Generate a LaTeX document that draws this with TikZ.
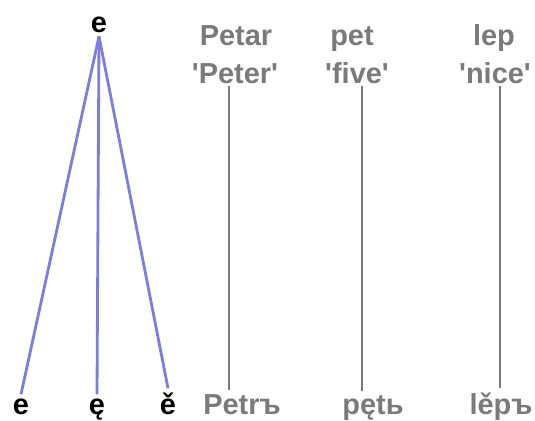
\documentclass[tikz,border=0pt]{standalone}
\usepackage{fontspec}
\setmainfont{Liberation Sans}
\usepackage{xcolor}
\usepackage{tikz}
\usetikzlibrary{calc}
\definecolor{vowelblue}{RGB}{125,125,225}
\definecolor{wordgray}{RGB}{122,122,122}

\begin{document}
\begin{tikzpicture}[x=0.03cm, y=-0.03cm,
  vowel/.style={font=\fontsize{24.7pt}{28pt}\selectfont\bfseries, text=black, anchor=base},
  word/.style={font=\fontsize{24.7pt}{28pt}\selectfont\bfseries, text=wordgray, anchor=base},
  gloss/.style={word, inner sep=2pt},
  branch/.style={draw=vowelblue, line width=2.4pt},
  stem/.style={draw=wordgray, line width=2.4pt}]
\useasboundingbox (0,0) rectangle (535,420);
% the vowel tree
\node[vowel] (top) at (99,32) {e};
\node[vowel] (eplain) at (21,414) {e};
\node[vowel] (enasal) at (97,414) {ę};
\node[vowel] (eyat) at (168,414) {ě};
\draw[branch] (top.south) -- (eplain.north);
\draw[branch] (top.south) -- (enasal.north);
\draw[branch] (top.south) -- (eyat.north);
% the words
\node[word] (petar) at (236,45) {Petar};
\node[gloss] (peter) at (235,83) {\textquotesingle Peter\textquotesingle};
\node[word] (pet) at (352,45) {pet};
\node[gloss] (five) at (357,83) {\textquotesingle five\textquotesingle};
\node[word] (lep) at (494,45) {lep};
\node[gloss] (nice) at (495,83) {\textquotesingle nice\textquotesingle};
\node[word] (petr) at (242,414) {Petrъ};
\node[word] (pety) at (373,414) {pętь};
\node[word] (lepy) at (501,414) {lěpъ};
\coordinate (peterfoot) at ($(peter.south)+(-6,0)$);
\coordinate (fivefoot) at ($(five.south)+(5,0)$);
\coordinate (nicefoot) at ($(nice.south)+(5,0)$);
\draw[stem] (peterfoot) -- (peterfoot |- petr.north);
\draw[stem] (fivefoot) -- (fivefoot |- pety.north);
\draw[stem] (nicefoot) -- (nicefoot |- lepy.north);
\end{tikzpicture}
\end{document}
